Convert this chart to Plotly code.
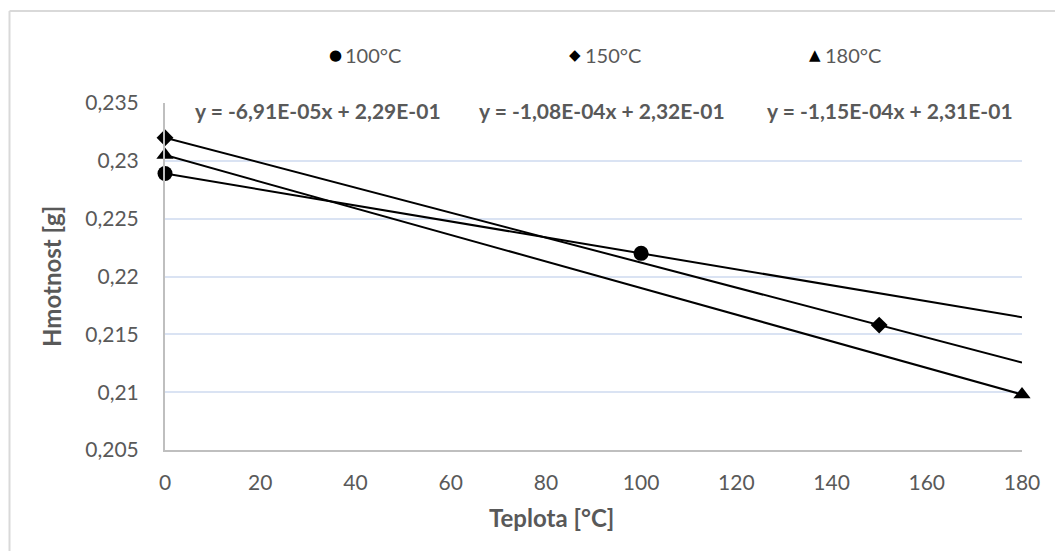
import numpy as np
import plotly.graph_objects as go

# ---- data ----
series_names = ["100°C", "150°C", "180°C"]
x_100 = [0, 100]
y_100 = [0.2289, 0.2220]
x_150 = [0, 150]
y_150 = [0.2320, 0.2158]
x_180 = [0, 180]
y_180 = [0.2305, 0.2098]
equations = ["y = -6,91E-05x + 2,29E-01",
             "y = -1,08E-04x + 2,32E-01",
             "y = -1,15E-04x + 2,31E-01"]
x_ticks = [0, 20, 40, 60, 80, 100, 120, 140, 160, 180]
y_ticks = [0.205, 0.21, 0.215, 0.22, 0.225, 0.23, 0.235]
y_tick_labels = ["0,205", "0,21", "0,215", "0,22", "0,225", "0,23", "0,235"]
x_title = "Teplota [°C]"
y_title = "Hmotnost [g]"
legend_glyphs = ["●", "◆", "▲"]

FONT = "Lato"
GRAY = "#595959"
symbols = ["circle", "diamond", "triangle-up"]
sizes = [15, 13, 15]

fig = go.Figure()
xs = [x_100, x_150, x_180]
ys = [y_100, y_150, y_180]
x_min, x_max = x_ticks[0], x_ticks[-1]

# trendlines (linear fit of each series, drawn across the axis range)
for xv, yv in zip(xs, ys):
    k, q = np.polyfit(xv, yv, 1)
    lx = np.array([x_min, x_max], dtype=float)
    fig.add_trace(go.Scatter(x=lx, y=k * lx + q, mode="lines",
                             line=dict(color="black", width=2),
                             showlegend=False, hoverinfo="skip",
                             cliponaxis=False))

for name, xv, yv, sym, sz in zip(series_names, xs, ys, symbols, sizes):
    fig.add_trace(go.Scatter(x=xv, y=yv, mode="markers", name=name,
                             marker=dict(symbol=sym, size=sz, color="black"),
                             showlegend=False, cliponaxis=False))

OFF = 8  # page body margin
W, H = 1063 - OFF, 551 - OFF
# plot area in page pixels: left 165, right 1022, top 103, bottom 450
L = 165 - OFF
T = 103 - OFF
R = W - (1022 - OFF)
B = H - (450 - OFF)
pw, ph = W - L - R, H - T - B

def px_x(p):
    return (p - OFF - L) / pw

def px_y(p):
    return (H - B - (p - OFF)) / ph

annotations = []
eq_px = [(318, 110), (602, 110), (890, 110)]
for txt, (ex, ey) in zip(equations, eq_px):
    annotations.append(dict(text=f"<b>{txt}</b>", x=px_x(ex), y=px_y(ey),
                            xref="paper", yref="paper", showarrow=False,
                            xanchor="center", yanchor="middle",
                            font=dict(family=FONT, size=21, color=GRAY)))
annotations.append(dict(text=f"<b>{x_title}</b>", x=px_x(551), y=px_y(517),
                        xref="paper", yref="paper", showarrow=False,
                        xanchor="center", yanchor="middle",
                        font=dict(family=FONT, size=24, color=GRAY)))
annotations.append(dict(text=f"<b>{y_title}</b>", x=px_x(51), y=px_y(277),
                        xref="paper", yref="paper", showarrow=False,
                        textangle=-90, xanchor="center", yanchor="middle",
                        font=dict(family=FONT, size=24, color=GRAY)))

# legend (symbol + label) at top
leg_marker_px = [335, 575, 815]
for glyph, name, mx in zip(legend_glyphs, series_names, leg_marker_px):
    annotations.append(dict(text=glyph, x=px_x(mx), y=px_y(55),
                            xref="paper", yref="paper", showarrow=False,
                            xanchor="center", yanchor="middle",
                            font=dict(family="DejaVu Sans", size=15, color="black")))
    annotations.append(dict(text=name, x=px_x(mx + 8), y=px_y(55),
                            xref="paper", yref="paper", showarrow=False,
                            xanchor="left", yanchor="middle",
                            font=dict(family=FONT, size=20, color=GRAY)))

shapes = [
    dict(type="line", xref="paper", yref="paper", x0=px_x(9.5), y0=px_y(11),
         x1=px_x(1100), y1=px_y(11), line=dict(color="#d9d9d9", width=2)),
    dict(type="line", xref="paper", yref="paper", x0=px_x(9.5), y0=px_y(11),
         x1=px_x(9.5), y1=px_y(600), line=dict(color="#d9d9d9", width=2)),
]

fig.update_layout(
    width=W, height=H,
    margin=dict(l=L, r=R, t=T, b=B, autoexpand=False),
    paper_bgcolor="white", plot_bgcolor="white",
    separators=", ",
    font=dict(family=FONT, size=18, color=GRAY),
    showlegend=False,
    annotations=annotations,
    shapes=shapes,
)
fig.update_xaxes(range=[x_min, x_max], tickvals=x_ticks,
                 showgrid=False, zeroline=False,
                 showline=True, linecolor="#bfbfbf", linewidth=2,
                 ticks="", ticklabelstandoff=13,
                 tickfont=dict(family=FONT, size=21, color=GRAY))
fig.update_yaxes(range=[y_ticks[0], y_ticks[-1]], tickvals=y_ticks,
                 ticktext=y_tick_labels,
                 showgrid=True, gridcolor="#dae3f3", gridwidth=2,
                 zeroline=False,
                 showline=True, linecolor="#bfbfbf", linewidth=2,
                 ticks="", ticklabelstandoff=20,
                 tickfont=dict(family=FONT, size=21, color=GRAY))

fig.write_html("out.html")
